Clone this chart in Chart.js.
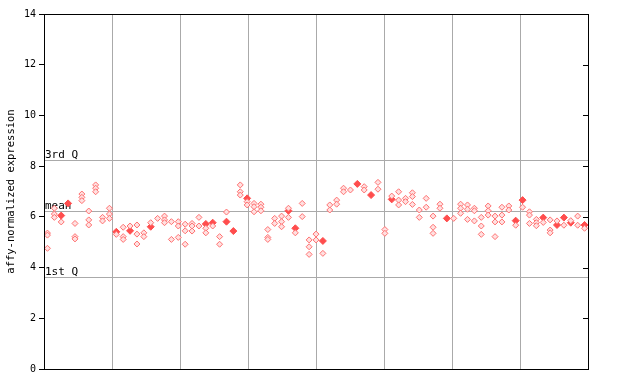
<!DOCTYPE html>
<html>
<head>
<meta charset="utf-8">
<script src="https://cdn.jsdelivr.net/npm/chart.js@4/dist/chart.umd.min.js"></script>
<style>
  html, body { margin: 0; padding: 0; background: #fff; }
  #wrap { width: 640px; height: 384px; }
</style>
</head>
<body>
<div id="wrap"><canvas id="exprChart" width="640" height="384"></canvas></div>
<script>
// one entry per sample (left to right); open diamonds and filled diamonds
const openValues = [
  [5.36, 5.28, 4.76], [6.34, 6.11, 5.98], [5.8], [], [5.74, 5.22, 5.13],
  [6.9, 6.77, 6.64], [6.23, 5.88, 5.68], [7.26, 7.13, 6.99], [5.98, 5.84], [6.34, 6.11, 5.94],
  [5.31], [5.59, 5.22, 5.11], [5.64], [5.68, 5.32, 4.93], [5.37, 5.22],
  [5.77], [5.94], [6.03, 5.88, 5.77], [5.81, 5.11], [5.81, 5.64, 5.19],
  [5.71, 5.45, 4.92], [5.74, 5.64, 5.44], [5.98, 5.64], [5.55, 5.37], [5.64],
  [5.22, 4.92], [6.19], [], [7.26, 6.99, 6.86], [6.6, 6.47],
  [6.53, 6.4, 6.2], [6.5, 6.38, 6.24], [5.5, 5.19, 5.11], [5.94, 5.74], [6.03, 5.81, 5.61],
  [6.34, 5.98], [5.37], [6.53, 6.01], [5.09, 4.82, 4.52], [5.32, 5.09],
  [4.56], [6.47, 6.27], [6.66, 6.5], [7.13, 6.99], [7.06],
  [], [7.19, 7.06], [], [7.36, 7.09], [5.5, 5.35],
  [6.82], [6.99, 6.66, 6.47], [6.73, 6.6], [6.95, 6.8, 6.49], [6.27, 5.98],
  [6.73, 6.38], [6.03, 5.59, 5.35], [6.5, 6.34], [], [5.94],
  [6.5, 6.34, 6.14], [6.47, 6.3, 5.9], [6.34, 6.24, 5.84], [5.98, 5.64, 5.31], [6.43, 6.24, 6.07],
  [6.03, 5.8, 5.22], [6.38, 6.07, 5.8], [6.43, 6.27], [5.67], [6.38],
  [6.2, 6.07, 5.74], [5.9, 5.77, 5.65], [5.78], [5.88, 5.48, 5.37], [5.84],
  [5.67], [5.85], [6.03, 5.67], [5.55]
];
const solidValues = [
  [], [], [6.05], [6.53], [],
  [], [], [], [], [],
  [5.41], [], [5.45], [], [],
  [5.61], [], [], [], [],
  [], [], [], [5.72], [5.77],
  [], [5.81], [5.44], [], [6.73],
  [], [], [], [], [],
  [6.24], [5.55], [], [], [],
  [5.05], [], [], [], [],
  [7.3], [], [6.86], [], [],
  [6.69], [], [], [], [],
  [], [], [], [5.94], [],
  [], [], [], [], [],
  [], [], [], [5.85], [6.66],
  [], [], [5.97], [], [5.68],
  [5.97], [5.77], [], [5.68]
];
const yTicks = [0, 2, 4, 6, 8, 10, 12, 14];
const refLines = [
  { label: '3rd Q', value: 8.24 },
  { label: 'mean', value: 6.23 },
  { label: '1st Q', value: 3.63 }
];
const groupCount = 8;

const toPoints = arr => arr.flatMap((vals, i) => vals.map(v => ({ x: i, y: v })));

const refPlugin = {
  id: 'refLines',
  beforeDatasetsDraw(chart) {
    const { ctx, chartArea: a, scales: { y } } = chart;
    ctx.save();
    ctx.strokeStyle = '#aaaaaa';
    ctx.lineWidth = 1;
    ctx.font = '11px "DejaVu Sans Mono"';
    ctx.fillStyle = '#000';
    ctx.textBaseline = 'bottom';
    refLines.forEach(r => {
      const py = Math.round(y.getPixelForValue(r.value)) + 0.5;
      ctx.beginPath();
      ctx.moveTo(a.left, py);
      ctx.lineTo(a.right, py);
      ctx.stroke();
      ctx.fillText(r.label, a.left + 1, py);
    });
    ctx.restore();
  },
  afterDraw(chart) {
    const { ctx, chartArea: a, scales: { y } } = chart;
    ctx.save();
    ctx.strokeStyle = '#000';
    ctx.lineWidth = 1;
    ctx.strokeRect(Math.round(a.left) + 0.5, Math.round(a.top) + 0.5,
      Math.round(a.right - a.left), Math.round(a.bottom - a.top));
    ctx.beginPath();
    yTicks.forEach(t => {
      const py = Math.round(y.getPixelForValue(t)) + 0.5;
      ctx.moveTo(a.right, py);
      ctx.lineTo(a.right - 5, py);
    });
    ctx.stroke();
    ctx.restore();
  }
};

const ctx = document.getElementById('exprChart').getContext('2d');
const exprChart = new Chart(ctx, {
  type: 'scatter',
  data: {
    datasets: [{
      data: toPoints(openValues),
      pointStyle: 'rectRot',
      pointRadius: 3,
      borderWidth: 1,
      borderColor: '#ff7070',
      backgroundColor: '#ffe0e0'
    }, {
      data: toPoints(solidValues),
      pointStyle: 'rectRot',
      pointRadius: 3.5,
      borderWidth: 1,
      borderColor: '#ff4d4d',
      backgroundColor: '#ff4d4d'
    }]
  },
  options: {
    responsive: false,
    animation: false,
    layout: { padding: { left: 0, top: 14, right: 52, bottom: 15 } },
    plugins: { legend: { display: false }, tooltip: { enabled: false } },
    scales: {
      x: {
        type: 'linear',
        min: -0.5,
        max: openValues.length - 0.5,
        display: false
      },
      x2: {
        type: 'linear',
        position: 'bottom',
        min: 0,
        max: groupCount,
        afterBuildTicks: s => { s.ticks = Array.from({ length: groupCount + 1 }, (_, i) => ({ value: i })); },
        ticks: { display: false },
        grid: { color: '#aaaaaa', drawTicks: false },
        border: { display: false },
        afterFit: s => { s.height = 0; }
      },
      y: {
        min: 0,
        max: 14,
        afterBuildTicks: s => { s.ticks = yTicks.map(v => ({ value: v })); },
        afterFit: s => { s.width = 44; },
        ticks: {
          color: '#000',
          padding: 3,
          font: { family: 'DejaVu Sans Mono', size: 10 }
        },
        grid: { drawOnChartArea: false, color: '#000', tickLength: 5 },
        border: { color: '#000' },
        title: {
          display: true,
          text: 'affy-normalized expression',
          color: '#000',
          padding: { top: 5, bottom: 0 },
          font: { family: 'DejaVu Sans Mono', size: 10.5 }
        }
      }
    }
  },
  plugins: [refPlugin]
});
</script>
</body>
</html>
